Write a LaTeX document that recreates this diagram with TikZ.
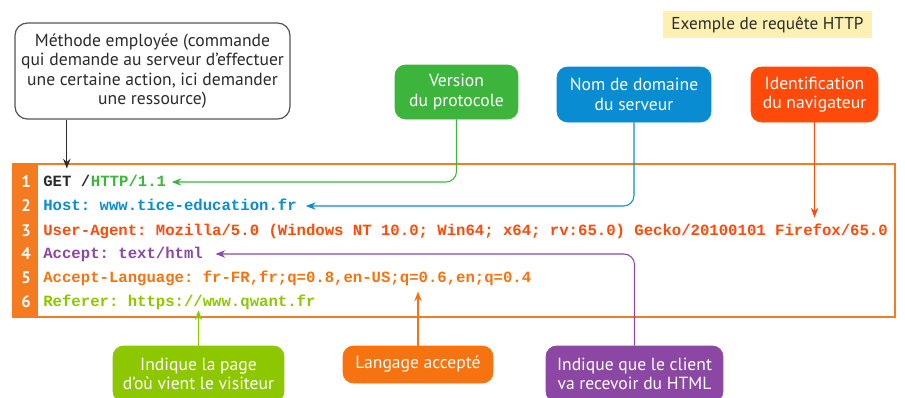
\documentclass[tikz,border=0pt]{standalone}
\usepackage{fontspec}
\setmainfont{PT Sans}
\newfontfamily\codefont{Liberation Mono}
\usepackage{tikz}
\usetikzlibrary{positioning, arrows.meta}
\definecolor{frameorange}{HTML}{F47B20}
\definecolor{vgreen}{HTML}{3DB53C}
\definecolor{hblue}{HTML}{0A8CD3}
\definecolor{uared}{HTML}{FF4A0A}
\definecolor{acpurple}{HTML}{8B47A3}
\definecolor{langorange}{HTML}{F7730F}
\definecolor{reflime}{HTML}{8CC700}
\definecolor{titleyellow}{HTML}{FDF1B2}
\definecolor{darktext}{HTML}{2B2B2B}
\tikzset{
  tag/.style={rectangle, rounded corners=6pt, draw=#1, fill=#1, text=white, align=center,
    font=\fontsize{10}{11}\selectfont},
  codeline/.style={anchor=west, inner sep=0pt, text height=7pt, text depth=2pt,
    font=\codefont\bfseries\fontsize{8.9}{10}\selectfont\frenchspacing},
  pointer/.style={draw=#1, line width=0.6pt, -{Stealth[length=5.5pt, width=4.2pt]}, shorten >=3pt},
}

\begin{document}
\begin{tikzpicture}[x=0.02cm, y=-0.02cm]
  \tikzset{
    linenum/.style={text=white, inner sep=0pt, font=\bfseries\fontsize{9.5}{10}\selectfont},
    note/.style={rectangle, rounded corners=7pt, draw=darktext!80, line width=0.7pt, fill=white,
      text=darktext, align=center, font=\fontsize{10}{11.1}\selectfont},
  }
  \useasboundingbox (0,0) rectangle (905,397);
  \clip (0,0) rectangle (905,397);

  \node[fill=titleyellow, text=darktext, minimum width=4.18cm, minimum height=0.54cm,
    font=\fontsize{9.8}{11}\selectfont] (title) at (767.5,24.5) {Exemple de requête HTTP};

  % callouts above the request
  \node[note, minimum width=5.5cm, minimum height=1.92cm] (method) at (152.5,71)
    {Méthode employée (commande\\qui demande au serveur d'effectuer\\une certaine action, ici demander\\une ressource)};
  \node[tag=vgreen, minimum width=2.46cm, minimum height=1.08cm] (version) at (456.5,92) {Version\\du protocole};
  \node[tag=hblue, minimum width=3.08cm, minimum height=1.1cm] (domain) at (634,94.5) {Nom de domaine\\du serveur};
  \node[tag=uared, minimum width=2.54cm, minimum height=1.1cm] (agent) at (814.5,94.5) {Identification\\du navigateur};

  % request box
  \draw[frameorange, line width=0.9pt] (13,164) rectangle (895,317);
  \fill[frameorange] (13,164) rectangle (38,317);

  \node[linenum] (n1) at (26,182) {1};
  \node[linenum] (n2) at (26,206) {2};
  \node[linenum] (n3) at (26,231) {3};
  \node[linenum] (n4) at (26,254) {4};
  \node[linenum] (n5) at (26,278) {5};
  \node[linenum] (n6) at (26,302) {6};

  \node[codeline, text=darktext] (get) at (43,182) {GET /};
  \node[codeline, text=vgreen, right=0pt of get] (proto) {HTTP/1.1};
  \node[codeline, text=hblue] (host) at (43,206) {Host: www.tice-education.fr};
  \node[codeline, text=uared] (ua) at (43,231) {User-Agent: Mozilla/5.0 (Windows NT 10.0; Win64; x64; rv:65.0) Gecko/20100101 Firefox/65.0};
  \node[codeline, text=acpurple] (accept) at (43,254) {Accept: text/html};
  \node[codeline, text=langorange] (acclang) at (43,278) {Accept-Language: fr-FR,fr;q=0.8,en-US;q=0.6,en;q=0.4};
  \node[codeline, text=reflime] (referer) at (43,302) {Referer: https://www.qwant.fr};

  % callouts below the request
  \node[tag=reflime, minimum width=3.42cm, minimum height=1.12cm] (page) at (198.5,374) {Indique la page\\d'où vient le visiteur};
  \node[tag=langorange, minimum width=3.0cm, minimum height=0.74cm] (lang) at (418,364.5) {Langage accepté};
  \node[tag=acpurple, minimum width=3.54cm, minimum height=1.12cm] (client) at (634.5,374) {Indique que le client\\va recevoir du HTML};

  \draw[pointer=darktext] (method.south -| get.north) -- (get.north);
  \draw[pointer=vgreen, rounded corners=6pt] (version.south) |- (proto.east);
  \draw[pointer=hblue, rounded corners=6pt, shorten >=5pt] (domain.south) |- (host.east);
  \draw[pointer=uared] (agent.south) -- (agent.south |- ua.north);
  \draw[pointer=acpurple, rounded corners=6pt, shorten >=7pt] (client.north) |- (accept.east);
  \draw[pointer=langorange] (lang.north) -- (lang.north |- acclang.south);
  \draw[pointer=reflime, shorten >=0pt] (page.north) -- (page.north |- referer.south);
\end{tikzpicture}
\end{document}
